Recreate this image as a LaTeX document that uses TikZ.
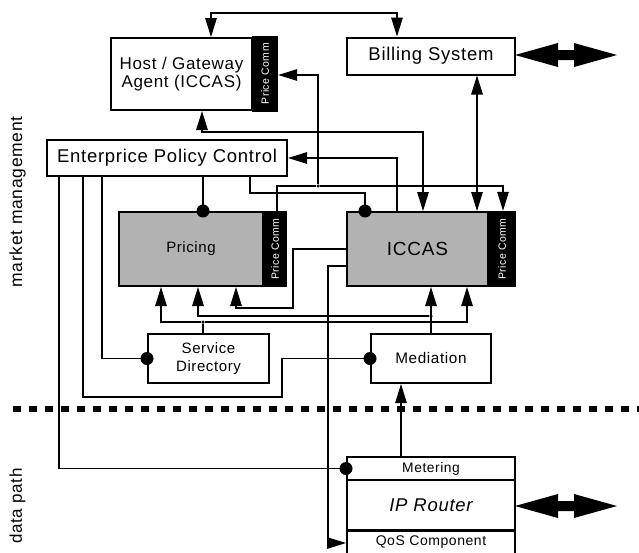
\documentclass[tikz,border=0pt]{standalone}
\usepackage{fontspec}
\setmainfont{Liberation Sans}[LetterSpace=4]
\usetikzlibrary{arrows.meta}
\newcommand\setfs[1]{\fontsize{#1}{1.05\dimexpr#1pt\relax}\selectfont}
\tikzset{
  box/.style={draw, line width=2pt, fill=white, inner sep=0pt, align=center},
  graybox/.style={box, fill=black!30},
  pcomm/.style={fill=black, inner sep=0pt},
  pctext/.style={rotate=90, text=white, inner sep=0pt, font=\setfs{10.5}},
  dot/.style={circle, fill=black, inner sep=0pt, minimum size=13pt},
  jn/.style={circle, fill=black, inner sep=0pt, minimum size=3.5pt},
  wire/.style={line width=1.3pt},
  arrowend/.style={wire, -{Triangle[length=19pt,width=11.5pt]}},
  arrowboth/.style={wire, {Triangle[length=19pt,width=11.5pt]}-{Triangle[length=19pt,width=11.5pt]}},
  dblarrow/.pic={\fill (-51,0) -- (-8,-12) -- (-8,-5) -- (8,-5) -- (8,-12) -- (51,0)
                   -- (8,12) -- (8,5) -- (-8,5) -- (-8,12) -- cycle;},
}
\begin{document}
\begin{tikzpicture}[x=1pt, y=-1pt]
\useasboundingbox (0,0) rectangle (639,552);

% side labels
\node[rotate=90, font=\setfs{17.5}] (mm) at (17.5,202) {market management};
\node[rotate=90, font=\setfs{17}] (dp) at (17.5,506) {data path};

% boundary between management and data path
\draw[line width=6pt, dash pattern=on 8pt off 8pt] (13,409) -- (639,409);

% boxes
\node[box, minimum width=141pt, minimum height=72pt, font=\fontsize{17}{18}\selectfont]
  (host) at (181.5,74) {Host / Gateway\\Agent (ICCAS)};
\node[pcomm, minimum width=26pt, minimum height=76pt] (hpc) at (265,73.7) {};
\node[pctext] (hpct) at (hpc) {Price Comm};

\node[box, minimum width=168pt, minimum height=37pt, font=\setfs{18.5}]
  (billing) at (431,56) {Billing System};

\node[box, minimum width=240pt, minimum height=36pt, font=\setfs{18.5}]
  (epc) at (167,158) {Enterprice Policy Control};

\node[graybox, minimum width=144pt, minimum height=74pt, font=\setfs{15}]
  (pricing) at (191,249) {Pricing};
\node[pcomm, minimum width=24pt, minimum height=76pt] (ppc) at (275,249) {};
\node[pctext] (ppct) at (ppc) {Price Comm};

\node[graybox, minimum width=141pt, minimum height=74pt, font=\setfs{19}]
  (iccas) at (417.5,249) {ICCAS};
\node[pcomm, minimum width=28pt, minimum height=76pt] (ipc) at (502,249) {};
\node[pctext] (ipct) at (ipc) {Price Comm};

\node[box, minimum width=121pt, minimum height=49pt, font=\fontsize{15}{17.3}\selectfont]
  (sd) at (208.5,358.5) {Service\\Directory};
\node[box, minimum width=120pt, minimum height=49pt, font=\setfs{15.3}]
  (med) at (431,358.5) {Mediation};

\node[box, minimum width=168pt, minimum height=23pt, font=\setfs{13.8}]
  (metering) at (431,468.5) {Metering};
\node[box, minimum width=168pt, minimum height=50pt, font=\itshape\setfs{18.5}]
  (router) at (431,505) {IP Router};
\node[box, minimum width=168pt, minimum height=30pt, anchor=north, font=\setfs{14}]
  (qos) at (431,530) {\raisebox{0pt}[0pt][0pt]{\raisebox{0.5pt}{QoS Component}}};

% external interfaces
\pic at (566,55) {dblarrow};
\pic at (566,506) {dblarrow};

% junctions
\node[jn] (j1) at (318,186) {};
\node[jn] (j2) at (203,322) {};
\node[jn] (j3) at (431,316) {};

% connectors
\draw[arrowboth] (host.north -| 211,0) -- (211,13) -| (billing.north -| 397,0);
\draw[arrowend] (j1) -- (318,75) -- (hpc.east |- 0,75);
\draw[arrowend] (ppc.north -| 277,0) |- (j1) -| (ipc.north -| 503,0);
\draw[arrowboth] (iccas.north -| 423,0) |- (202,132) -- (host.south -| 202,0);
\draw[arrowboth] (billing.south -| 477,0) -- (iccas.north -| 477,0);
\draw[arrowend] (iccas.north -| 397,0) |- (epc.east);
\draw[wire] (epc.south -| 250,0) |- (365,193) -- (iccas.north -| 365,0);
\draw[wire] (epc.south -| 203,0) -- (pricing.north -| 203,0);
\draw[wire] (epc.south -| 59,0) |- (metering.west);
\draw[wire] (epc.south -| 83,0) |- (282,397) |- (med.west);
\draw[wire] (epc.south -| 102,0) |- (sd.west);
\draw[wire] (sd.north -| 203,0) -- (j2);
\draw[arrowend] (j2) -| (pricing.south -| 161,0);
\draw[arrowend] (j2) -| (iccas.south -| 467,0);
\draw[arrowend] (med.north) -- (iccas.south -| med.north);
\draw[arrowend] (j3) -| (pricing.south -| 198,0);
\draw[arrowend] (iccas.west) -| (293,308) -| (pricing.south -| 236,0);
\draw[arrowend] (iccas.west |- 0,266) -| (328,543) -- (qos.west |- 0,543);
\draw[arrowend] (metering.north -| 401,0) -- (med.south -| 401,0);

% attachment dots
\node[dot] (d1) at (iccas.north -| 365,0) {};
\node[dot] (d2) at (pricing.north -| 203,0) {};
\node[dot] (d3) at (metering.west) {};
\node[dot] (d4) at (med.west) {};
\node[dot] (d5) at (sd.west) {};
\end{tikzpicture}
\end{document}
